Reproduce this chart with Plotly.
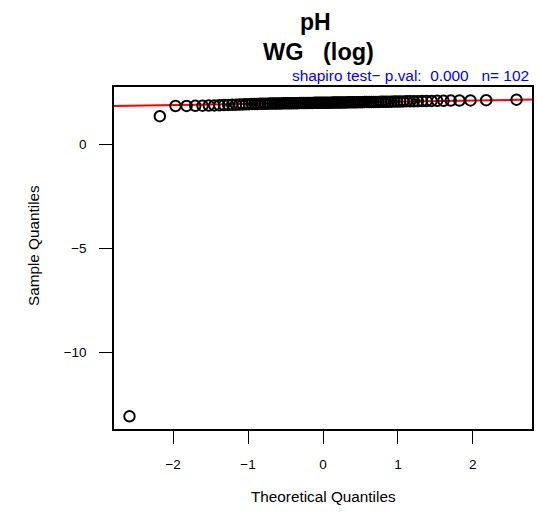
import plotly.graph_objects as go
import numpy as np
from statistics import NormalDist

# Sample values (log pH), sorted, n = 102
sample_values = [
    -13.09, 1.34,
    1.830, 1.833, 1.838, 1.845, 1.852, 1.860, 1.868, 1.876, 1.884, 1.890,
    1.896, 1.902, 1.908, 1.913, 1.918, 1.923, 1.927, 1.931, 1.935, 1.939,
    1.942, 1.944, 1.946, 1.948, 1.950, 1.952, 1.954, 1.956, 1.957, 1.959,
    1.960, 1.962, 1.963, 1.965, 1.966, 1.968, 1.969, 1.971, 1.972, 1.974,
    1.975, 1.977, 1.978, 1.980, 1.981, 1.982, 1.984, 1.985, 1.986, 1.987,
    1.988, 1.990, 1.991, 1.992, 1.994, 1.995, 1.996, 1.998, 1.999, 2.001,
    2.002, 2.004, 2.005, 2.007, 2.008, 2.010, 2.011, 2.013, 2.014, 2.016,
    2.017, 2.019, 2.020, 2.022, 2.024, 2.026, 2.028, 2.030, 2.032, 2.034,
    2.036, 2.039, 2.042, 2.045, 2.048, 2.051, 2.054, 2.057, 2.060, 2.064,
    2.068, 2.072, 2.076, 2.080, 2.085, 2.090, 2.095, 2.100, 2.110, 2.135,
]
x_ticks = [-2, -1, 0, 1, 2]
y_ticks = [0, -5, -10]
NB = "\u00a0"
title_line1 = "pH"
title_line2 = "WG" + NB * 3 + "(log)"
subtitle = "shapiro test\u2212 p.val:" + NB * 2 + "0.000" + NB * 3 + "n= 102"
x_title = "Theoretical Quantiles"
y_title = "Sample Quantiles"

n = len(sample_values)
y = np.sort(np.array(sample_values))
nd = NormalDist()
a = 3 / 8 if n <= 10 else 0.5
x = np.array([nd.inv_cdf((i - a) / (n + 1 - 2 * a)) for i in range(1, n + 1)])

# qqline through quartiles
q1, q3 = np.quantile(y, [0.25, 0.75])
z1, z3 = nd.inv_cdf(0.25), nd.inv_cdf(0.75)
slope = (q3 - q1) / (z3 - z1)
intercept = q1 - slope * z1

def ext(v):
    lo, hi = float(np.min(v)), float(np.max(v))
    d = hi - lo
    return [lo - 0.04 * d, hi + 0.04 * d]

xr = ext(x)
yr = ext(y)

fig = go.Figure()
fig.add_trace(go.Scatter(
    x=xr, y=[intercept + slope * xr[0], intercept + slope * xr[1]],
    mode="lines", line=dict(color="#FF0000", width=2), hoverinfo="skip"))
fig.add_trace(go.Scatter(
    x=x, y=y, mode="markers",
    marker=dict(symbol="circle-open", size=10.5, color="black", line=dict(width=2, color="black"))))

font = "Liberation Sans, Arial, Helvetica, sans-serif"
axis_common = dict(showgrid=False, zeroline=False, showline=True, linecolor="black",
                   linewidth=1.5, mirror=True, ticks="outside", ticklen=13, tickwidth=1.3,
                   tickcolor="black", tickfont=dict(family=font, size=13.5, color="black"))
fig.update_xaxes(range=xr, tickvals=x_ticks, ticktext=[str(t).replace("-", "\u2212") for t in x_ticks],
                 ticklabelstandoff=9, **axis_common)
fig.update_yaxes(range=yr, tickvals=y_ticks, ticktext=[str(t).replace("-", "\u2212") for t in y_ticks],
                 ticklabelstandoff=10, **axis_common)

L, R, T, B = 114, 5, 87, 102
W, H = 537, 531
pw = W - L - R
ph = H - T - B

def px_to_paper_x(px):
    return (px - L) / pw

def py_to_paper_y(py):
    return (H - B - py) / ph

annotations = [
    dict(text="<b>%s</b>" % title_line1, x=px_to_paper_x(315), y=py_to_paper_y(22),
         xref="paper", yref="paper", showarrow=False, xanchor="center", yanchor="middle",
         font=dict(family=font, size=23, color="black")),
    dict(text="<b>%s</b>" % title_line2, x=px_to_paper_x(318), y=py_to_paper_y(52),
         xref="paper", yref="paper", showarrow=False, xanchor="center", yanchor="middle",
         font=dict(family=font, size=23.5, color="black")),
    dict(text=subtitle, x=px_to_paper_x(531), y=py_to_paper_y(76),
         xref="paper", yref="paper", showarrow=False, xanchor="right", yanchor="middle",
         font=dict(family=font, size=15.4, color="#0000FF")),
    dict(text=x_title, x=px_to_paper_x(323), y=py_to_paper_y(497),
         xref="paper", yref="paper", showarrow=False, xanchor="center", yanchor="middle",
         font=dict(family=font, size=15.3, color="black")),
    dict(text=y_title, x=px_to_paper_x(33), y=py_to_paper_y(246), textangle=-90,
         xref="paper", yref="paper", showarrow=False, xanchor="center", yanchor="middle",
         font=dict(family=font, size=15.3, color="black")),
]

fig.update_layout(
    width=W, height=H, margin=dict(l=L, r=R, t=T, b=B, autoexpand=False),
    paper_bgcolor="white", plot_bgcolor="white", showlegend=False,
    annotations=annotations,
)
fig.write_html("out.html", config={"displayModeBar": False},
               post_script="document.body.style.margin='0';document.body.style.overflow='hidden';")
